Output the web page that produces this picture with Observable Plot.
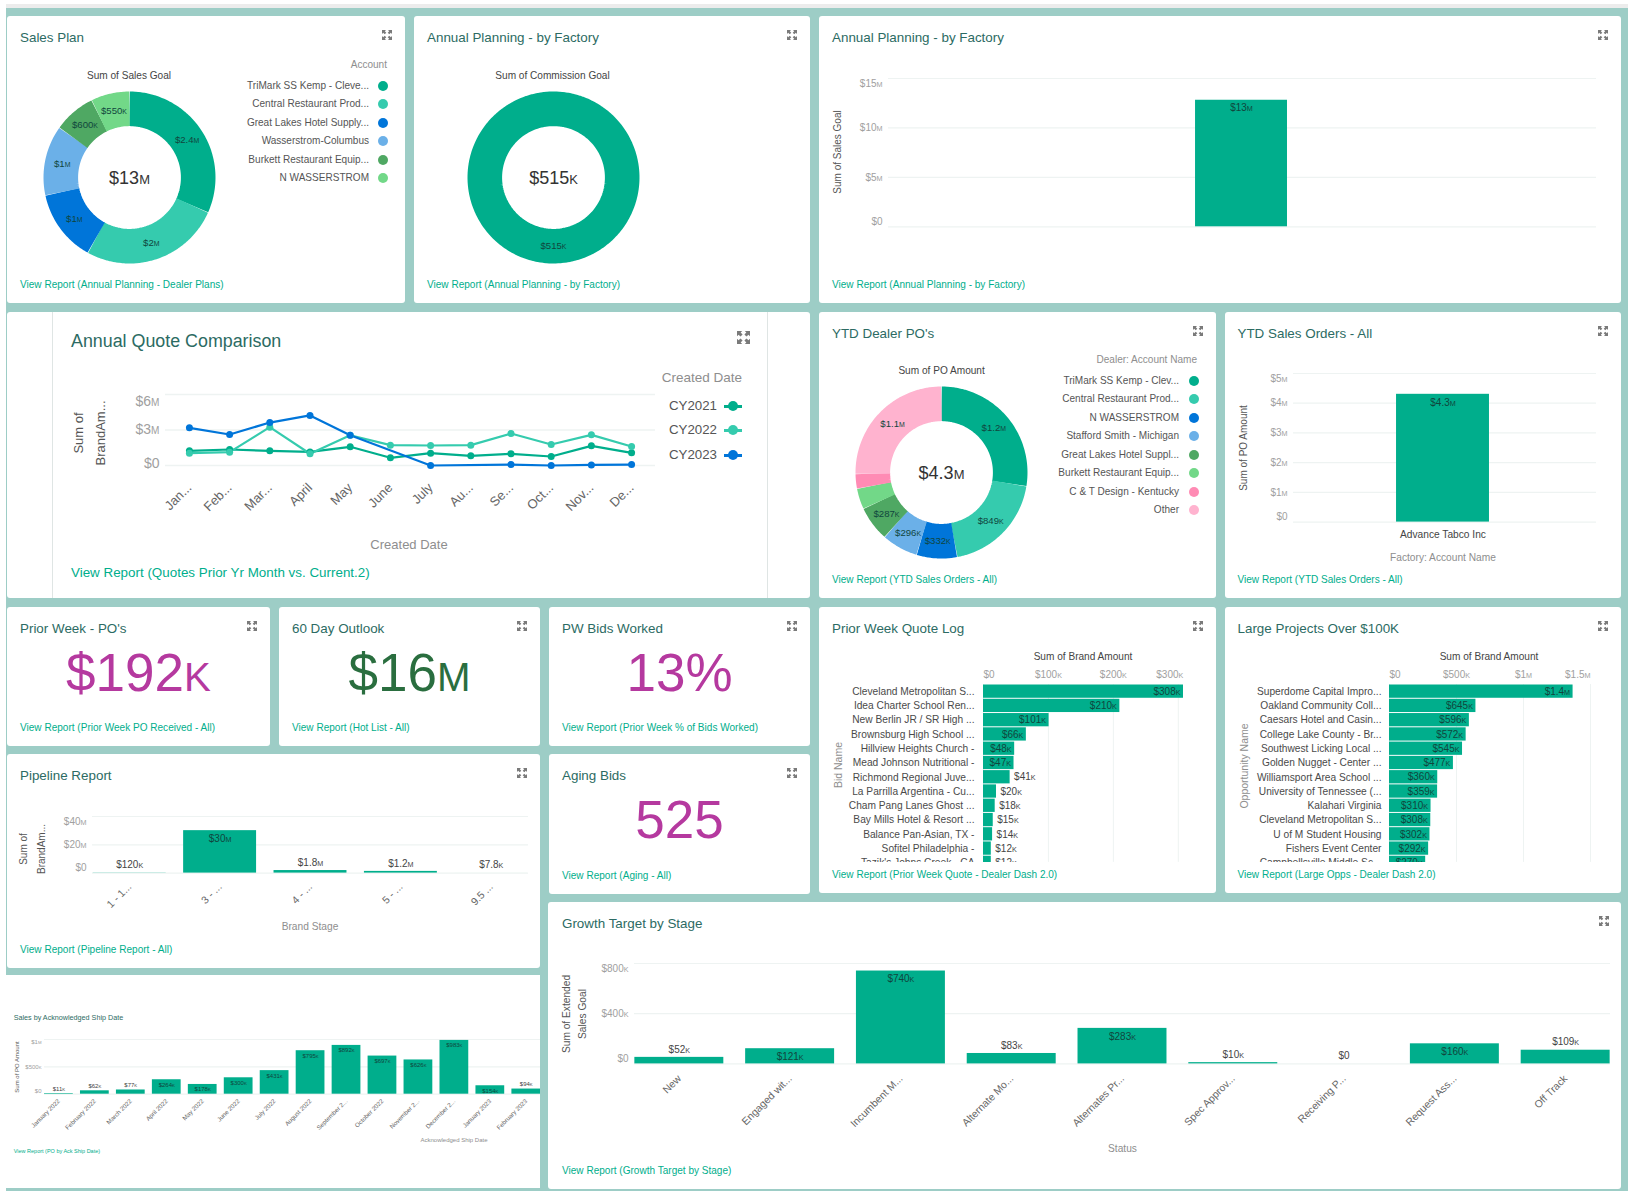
<!DOCTYPE html>
<html><head><meta charset="utf-8">
<script src="https://cdn.jsdelivr.net/npm/d3@7"></script>
<script src="https://cdn.jsdelivr.net/npm/@observablehq/plot@0.6"></script>
<style>
html,body{margin:0;padding:0;background:#fff;font-family:"Liberation Sans",Arial,sans-serif}
#page{position:relative;width:1630px;height:1196px;overflow:hidden;background:#fff}
svg.plot-svg{position:absolute}
</style></head><body><div id="page"></div>
<script>
// ---------- data ----------
const salesPlanAccounts = ["TriMark SS Kemp - Cleve...","Central Restaurant Prod...","Great Lakes Hotel Supply...","Wasserstrom-Columbus","Burkett Restaurant Equip...","N WASSERSTROM"];
const salesPlanValues = [2400000,2000000,1030000,1000000,600000,550000];
const salesPlanLabels = ["$2.4M","$2M","$1M","$1M","$600K","$550K"];
const commissionNames = ["Advance Tabco Inc"];
const commissionValues = [515000];
const commissionLabels = ["$515K"];
const factorySalesValues = [12800000];
const factorySalesLabels = ["$13M"];
const factorySalesTicks = [0,5e6,10e6,15e6];
const factorySalesTickLabels = ["$0","$5M","$10M","$15M"];
const months = ["Jan...","Feb...","Mar...","April","May","June","July","Au...","Se...","Oct...","Nov...","De..."];
const cy2021 = [1.24,1.35,1.24,1.15,1.58,0.65,1.04,0.82,0.99,0.76,1.66,1.07];
const cy2022 = [1.04,1.13,3.24,0.99,2.56,1.72,1.69,1.72,2.70,1.77,2.59,1.61];
const cy2023 = [3.18,2.62,3.63,4.23,2.56,null,0,null,0.08,0,0.05,0.08];
const quoteYears = ["CY2021","CY2022","CY2023"];
const dealerNames = ["TriMark SS Kemp - Clev...","Central Restaurant Prod...","N WASSERSTROM","Stafford Smith - Michigan","Great Lakes Hotel Suppl...","Burkett Restaurant Equip...","C & T Design - Kentucky","Other"];
const dealerValues = [1200000,849000,332000,296000,287000,170000,120000,1100000];
const dealerLabels = ["$1.2M","$849K","$332K","$296K","$287K","","","$1.1M"];
const ytdFactory = ["Advance Tabco Inc"];
const ytdValues = [4300000];
const ytdLabels = ["$4.3M"];
const ytdTicks = [0,1e6,2e6,3e6,4e6,5e6];
const ytdTickLabels = ["$0","$1M","$2M","$3M","$4M","$5M"];
const bidNames = ["Cleveland Metropolitan S...","Idea Charter School Ren...","New Berlin JR / SR High ...","Brownsburg High School ...","Hillview Heights Church -","Mead Johnson Nutritional -","Richmond Regional Juve...","La Parrilla Argentina - Cu...","Cham Pang Lanes Ghost ...","Bay Mills Hotel & Resort ...","Balance Pan-Asian, TX -","Sofitel Philadelphia -","Tazik's Johns Creek - CA"];
const bidValues = [308,210,101,66,48,47,41,20,18,15,14,12,12];
const bidLabels = ["$308K","$210K","$101K","$66K","$48K","$47K","$41K","$20K","$18K","$15K","$14K","$12K","$12K"];
const bidTicks = [0,100,200,300];
const bidTickLabels = ["$0","$100K","$200K","$300K"];
const oppNames = ["Superdome Capital Impro...","Oakland Community Coll...","Caesars Hotel and Casin...","College Lake County - Br...","Southwest Licking Local ...","Golden Nugget - Center ...","Williamsport Area School ...","University of Tennessee (...","Kalahari Virginia","Cleveland Metropolitan S...","U of M Student Housing","Fishers Event Center","Campbellsville Middle Sc..."];
const oppValues = [1370,645,596,572,545,477,360,359,310,308,302,292,270];
const oppLabels = ["$1.4M","$645K","$596K","$572K","$545K","$477K","$360K","$359K","$310K","$308K","$302K","$292K","$270K"];
const oppTicks = [0,500,1000,1500];
const oppTickLabels = ["$0","$500K","$1M","$1.5M"];
const stages = ["1 - 1...","3 - ...","4 - ...","5 - ...","9.5 ..."];
const stageValues = [120000,30000000,1800000,1200000,7800];
const stageLabels = ["$120K","$30M","$1.8M","$1.2M","$7.8K"];
const stageTicks = [0,20e6,40e6];
const stageTickLabels = ["$0","$20M","$40M"];
const shipMonths = ["January 2022","February 2022","March 2022","April 2022","May 2022","June 2022","July 2022","August 2022","September 2...","October 2022","November 2...","December 2...","January 2023","February 2023"];
const shipValues = [11000,62000,77000,264000,178000,300000,431000,795000,892000,697000,626000,983000,154000,94000];
const shipLabels = ["$11K","$62K","$77K","$264K","$178K","$300K","$431K","$795K","$892K","$697K","$626K","$983K","$154K","$94K"];
const shipTicks = [0,5e5,1e6];
const shipTickLabels = ["$0","$500K","$1M"];
const statuses = ["New","Engaged wit...","Incumbent M...","Alternate Mo...","Alternates Pr...","Spec Approv...","Receiving P...","Request Ass...","Off Track"];
const statusValues = [52000,121000,740000,83000,283000,10000,0,160000,109000];
const statusLabels = ["$52K","$121K","$740K","$83K","$283K","$10K","$0","$160K","$109K"];
const statusTicks = [0,4e5,8e5];
const statusTickLabels = ["$0","$400K","$800K"];

// ---------- style ----------
const GREEN="#00ae8c", TEAL="#9dcdc6", GRID="#eef3f2", TITLE="#2c6b63", TICK="#a0a0a0", AXIS="#8e8e8e", DARK="#555", BARTXT="#10463d";
const palette=[GREEN,"#35cbae","#0075d9","#6bb0e8","#4fa863","#72d888","#ff8bb4","#ffb3cf"];
const salesPalette=[GREEN,"#35cbae","#0075d9","#6bb0e8","#4fa863","#72d888"];
const lineColors=[GREEN,"#35cbae","#0075d9"];
const FONT='"Liberation Sans",Arial,sans-serif';
const page=document.getElementById("page");

function el(tag,css,html){const e=document.createElement(tag);e.style.cssText=css;if(html!=null)e.innerHTML=html;page.appendChild(e);return e;}
function rect(x0,y0,x1,y1,color,radius){return el("div",`position:absolute;left:${x0}px;top:${y0}px;width:${x1-x0}px;height:${y1-y0}px;background:${color};border-radius:${radius||0}px`);}
function txt(x,y,s,o={}){
  const a=o.anchor||"start";const tx=a==="start"?"0":a==="end"?"-100%":"-50%";
  return el("div",`position:absolute;left:${x}px;top:${y}px;white-space:nowrap;line-height:1;transform:translate(${tx},-50%);font-size:${o.size||11}px;color:${o.color||DARK};`,s);
}
function rot(x,y,s,o={}){return el("div",`position:absolute;left:${x}px;top:${y}px;white-space:nowrap;line-height:1;transform:translate(-50%,-50%) rotate(-90deg);font-size:${o.size||10}px;color:${o.color||DARK}`,s);}
function small(s){const m=/^(\$[\d.]+)([KM])$/.exec(s);return m?`${m[1]}<span style="font-size:.76em">${m[2]}</span>`:s;}
function icon(cx,cy,sz=10,color="#7a7a7a"){
  const h=sz/2;
  const e=document.createElementNS("http://www.w3.org/2000/svg","svg");
  e.setAttribute("width",sz);e.setAttribute("height",sz);e.setAttribute("viewBox","0 0 10 10");
  e.style.cssText=`position:absolute;left:${cx-h}px;top:${cy-h}px`;
  e.innerHTML=`<path fill="${color}" d="M0 0h4L2.8 1.2 4.3 2.7 2.7 4.3 1.2 2.8 0 4zM10 0v4L8.8 2.8 7.3 4.3 5.7 2.7 7.2 1.2 6 0zM0 10V6l1.2 1.2 1.5-1.5 1.6 1.6-1.5 1.5L4 10zM10 10H6l1.2-1.2-1.5-1.5 1.6-1.6 1.5 1.5L10 6z"/>`;
  page.appendChild(e);
}
const TITLE_SIZE=13.4, LINK_SIZE=10.05, LEG=10.05;
function card(x0,y0,x1,y1,title,link,o={}){
  rect(x0,y0,x1,y1,"#fff",3);
  const tx=x0+13;
  if(title)txt(tx,y0+22,title,{size:TITLE_SIZE,color:TITLE});
  if(link)txt(tx,y1-18.5,link,{size:LINK_SIZE,color:GREEN});
  if(!o.noIcon)icon(x1-18,y0+19);
}
function smallCaps(svg){
  svg.querySelectorAll("text").forEach(t=>{
    if(t.querySelector("tspan"))return;
    const m=/^(\$[\d.]+)([KM])$/.exec(t.textContent);
    if(!m)return;
    t.textContent=m[1];
    const s=document.createElementNS("http://www.w3.org/2000/svg","tspan");
    s.setAttribute("font-size","0.72em");s.textContent=m[2];t.appendChild(s);
  });
}
function place(fig,left,top){
  fig.classList.add("plot-svg");
  fig.style.position="absolute";fig.style.left=left+"px";fig.style.top=top+"px";fig.style.maxWidth="none";
  smallCaps(fig);page.appendChild(fig);return fig;
}
const baseStyle={fontFamily:FONT,background:"transparent",overflow:"hidden"};
const lookup=(keys,vals)=>v=>vals[keys.indexOf(v)];

function yAxisMarks(ticks,labels,o){
  const f=lookup(ticks,labels);
  const c={tickSize:0,tickPadding:o.pad??6,tickFormat:f,label:null,fontSize:o.size||10,fill:o.color||TICK};
  const n=ticks.length-1;
  return [
    Plot.axisY([ticks[0]],{...c,dy:o.dyBottom}),
    Plot.axisY(ticks.slice(1,n),{...c,dy:o.dyMid||0}),
    Plot.axisY([ticks[n]],{...c,dy:o.dyTop})
  ];
}
function vbar(o){
  const [x0,x1,yT,yB]=o.frame;
  const L=o.L||70,R=o.R||5,T=o.T||12,B=o.B||80;
  const rows=o.cats.map((c,i)=>({cat:c,value:o.values[i],label:o.labels[i]}));
  const scaleH=(yB-yT)/o.yMax;
  const tall=rows.filter(d=>d.value*scaleH>=o.minInside);
  const short=rows.filter(d=>d.value*scaleH<o.minInside);
  const fs=o.labelSize||10;
  const xAxis=o.noX?[]:[o.rotate
    ?Plot.axisX({tickSize:0,tickRotate:-45,tickPadding:o.xPad||10,fontSize:o.xSize||10.5,fill:o.xColor||"#666",label:null})
    :Plot.axisX({tickSize:0,tickPadding:o.xPad||10,fontSize:o.xSize||10.5,fill:o.xColor||"#444",label:null})];
  const fig=Plot.plot({
    width:L+(x1-x0)+R,height:T+(yB-yT)+B,marginLeft:L,marginRight:R,marginTop:T,marginBottom:B,style:baseStyle,
    x:{type:"band",domain:o.cats,paddingInner:o.pi,paddingOuter:o.po,align:o.align??0.5,round:false,label:null,axis:o.noX?null:undefined},
    y:{domain:[0,o.yMax],label:null},
    marks:[
      Plot.gridY(o.ticks,{stroke:GRID,strokeOpacity:1,strokeWidth:1.2}),
      ...yAxisMarks(o.ticks,o.tickLabels,o),
      ...xAxis,
      Plot.barY(rows,{x:"cat",y:"value",fill:GREEN}),
      Plot.text(tall,{x:"cat",y:"value",text:"label",dy:o.inDy||8,fontSize:fs,fill:BARTXT}),
      Plot.text(short,{x:"cat",y:"value",text:"label",dy:o.outDy||-8,fontSize:fs,fill:"#444"})
    ]
  });
  place(fig,x0-L,yT-T);
}
function hbar(o){
  const {x0,x1,yT,yClip,step,L=170,R=10,T=30}=o;
  const rows=o.cats.map((c,i)=>({cat:c,value:o.values[i],label:o.labels[i]}));
  const pxPer=(x1-x0)/o.xMax;
  const ins=rows.filter(d=>d.value*pxPer>=o.minInside), outs=rows.filter(d=>d.value*pxPer<o.minInside);
  const fTick=lookup(o.ticks,o.tickLabels);
  const c={anchor:"top",tickSize:0,tickPadding:6,tickFormat:fTick,fontSize:10,fill:TICK,label:null};
  const n=o.ticks.length-1;
  const fig=Plot.plot({
    width:L+(x1-x0)+R,height:T+(yClip-yT),marginLeft:L,marginRight:R,marginTop:T,marginBottom:0,style:baseStyle,
    x:{domain:[0,o.xMax],label:null},
    y:{type:"band",domain:o.cats,range:[T,T+step*o.cats.length],paddingInner:0.07,paddingOuter:0.035,round:false,label:null},
    marks:[
      Plot.gridX(o.ticks,{stroke:GRID,strokeOpacity:1,strokeWidth:1}),
      Plot.axisX([o.ticks[0]],{...c,textAnchor:"start"}),
      Plot.axisX(o.ticks.slice(1,n),c),
      Plot.axisX([o.ticks[n]],{...c,textAnchor:"end",dx:o.lastDx||0}),
      Plot.axisY({tickSize:0,tickPadding:o.yPad,fontSize:10.2,fill:"#4a4a4a",label:null}),
      Plot.barX(rows,{y:"cat",x:"value",fill:GREEN}),
      Plot.text(ins,{y:"cat",x:"value",text:"label",textAnchor:"end",dx:-3,fontSize:10,fill:BARTXT}),
      Plot.text(outs,{y:"cat",x:"value",text:"label",textAnchor:"start",dx:4,fontSize:10,fill:"#444"})
    ]
  });
  place(fig,x0-L,yT-T);
}
function donut(cx,cy,names,values,labels,colors,total){
  const R=86,r=51.4,mid=(R+r)/2,sum=d3.sum(values);
  const pts=[],lab=[];
  let a=0;
  const pos=t=>[mid*Math.sin(t*2*Math.PI),mid*Math.cos(t*2*Math.PI)];
  names.forEach((n,i)=>{
    const f=values[i]/sum,b=a+f,k=Math.max(2,Math.ceil(f*180));
    const end=names.length===1?1.004:b;
    for(let j=0;j<=k;j++){const [x,y]=pos(a+(end-a)*j/k);pts.push({name:n,x,y});}
    if(labels[i]){const [x,y]=pos((a+b)/2);lab.push({x,y,text:labels[i]});}
    a=b;
  });
  const fig=Plot.plot({
    width:180,height:180,margin:0,style:baseStyle,
    x:{domain:[-90,90],axis:null},y:{domain:[-90,90],axis:null},
    color:{domain:names,range:colors},
    marks:[
      Plot.line(pts,{x:"x",y:"y",z:"name",stroke:"name",strokeWidth:R-r,strokeLinecap:"butt",strokeLinejoin:"round",curve:"linear"}),
      Plot.text(lab,{x:"x",y:"y",text:"text",fontSize:9.6,fill:BARTXT}),
      Plot.text([total],{frameAnchor:"middle",dy:1,fontSize:18,fill:"#333"})
    ]
  });
  place(fig,cx-90,cy-90);
}
function legend(xText,xDot,ys,names,colors,heading,xHead,yHead){
  txt(xHead,yHead,heading,{size:LEG,color:AXIS,anchor:"end"});
  names.forEach((n,i)=>{
    txt(xText,ys[i],n,{size:LEG,color:DARK,anchor:"end"});
    el("div",`position:absolute;left:${xDot-5}px;top:${ys[i]-5}px;width:10px;height:10px;border-radius:50%;background:${colors[i]}`);
  });
}

// ---------- background ----------
rect(6,4,1628,8,"#ececec");
rect(6,8,1628,1190.7,TEAL);

// ---------- row 1 ----------
card(7,16,405,303,"Sales Plan","View Report (Annual Planning - Dealer Plans)");
txt(129,75.7,"Sum of Sales Goal",{size:10.1,color:"#444",anchor:"middle"});
donut(129,177.3,salesPlanAccounts,salesPlanValues,salesPlanLabels,salesPalette,"$13M");
legend(369,382.5,[85.7,104,122.7,141,159.7,178],salesPlanAccounts,salesPalette,"Account",387,65);

card(414,16,810,303,"Annual Planning - by Factory","View Report (Annual Planning - by Factory)");
txt(552.5,75.7,"Sum of Commission Goal",{size:10.1,color:"#444",anchor:"middle"});
donut(552.5,177.3,commissionNames,commissionValues,commissionLabels,[GREEN],"$515K");

card(819,16,1621,303,"Annual Planning - by Factory","View Report (Annual Planning - by Factory)");
rot(838,152,"Sum of Sales Goal");
vbar({frame:[888,1596,77.7,226],cats:["Advance Tabco Inc"],values:factorySalesValues,labels:factorySalesLabels,ticks:factorySalesTicks,tickLabels:factorySalesTickLabels,yMax:15e6,pi:0,po:3.35,align:0.4984,minInside:15,dyTop:5,dyBottom:-5,B:6,noX:true});

// ---------- row 2 ----------
rect(7,312,810,598,"#fff",3);
rect(52,312,53,598,"#dfe5e4");rect(767,312,768,598,"#dfe5e4");
txt(71,342,"Annual Quote Comparison",{size:17.85,color:TITLE});
txt(71,573,"View Report (Quotes Prior Yr Month vs. Current.2)",{size:13.4,color:GREEN});
icon(743,337,13);
txt(742,378,"Created Date",{size:13.5,color:AXIS,anchor:"end"});
quoteYears.forEach((y,i)=>{
  const yy=[406,430,455][i];
  txt(717,yy,y,{size:13.3,color:DARK,anchor:"end"});
  rect(724,yy-1.5,742,yy+1.5,lineColors[i]);
  el("div",`position:absolute;left:${728}px;top:${yy-5}px;width:10px;height:10px;border-radius:50%;background:${lineColors[i]}`);
});
rot(78,433,"Sum of",{size:13});rot(100,433,"BrandAm...",{size:13});
txt(409,544,"Created Date",{size:13,color:AXIS,anchor:"middle"});
(function(){
  const series=[cy2021,cy2022,cy2023];
  const rows=[];
  quoteYears.forEach((y,i)=>months.forEach((m,j)=>{if(series[i][j]!=null)rows.push({year:y,month:m,value:series[i][j]});}));
  const L=110,T=12,x0=165,x1=655,yT=394.3,yB=465.3,B=70;
  const fig=Plot.plot({
    width:L+(x1-x0)+5,height:T+(yB-yT)+B,marginLeft:L,marginRight:5,marginTop:T,marginBottom:B,style:baseStyle,
    x:{type:"point",domain:months,padding:0.595,round:false,label:null},
    y:{domain:[0,6],label:null},
    color:{domain:quoteYears,range:lineColors},
    marks:[
      Plot.gridY([0,3,6],{stroke:GRID,strokeOpacity:1,strokeWidth:1.4}),
      ...yAxisMarks([0,3,6],["$0","$3M","$6M"],{size:14,dyTop:7,dyBottom:-2,pad:6}),
      Plot.axisX({tickSize:0,tickRotate:-45,tickPadding:20,fontSize:13,fill:"#666",label:null}),
      Plot.line(rows,{x:"month",y:"value",z:"year",stroke:"year",strokeWidth:2.2}),
      Plot.dot(rows,{x:"month",y:"value",fill:"year",r:3.5})
    ]
  });
  place(fig,x0-L,yT-T);
})();

card(819,312,1216,598,"YTD Dealer PO's","View Report (YTD Sales Orders - All)");
txt(941.6,371,"Sum of PO Amount",{size:10.1,color:"#444",anchor:"middle"});
donut(940.6,472,dealerNames,dealerValues,dealerLabels,palette,"$4.3M");
legend(1179,1193.5,[381,399,418,436,455,473,492,510],dealerNames,palette,"Dealer: Account Name",1197,360);

card(1224.5,312,1621,598,"YTD Sales Orders - All","View Report (YTD Sales Orders - All)");
rot(1243.6,447.7,"Sum of PO Amount");
txt(1443,558,"Factory: Account Name",{size:10.2,color:AXIS,anchor:"middle"});
vbar({frame:[1293,1596,372.7,521.3],cats:ytdFactory,values:ytdValues,labels:ytdLabels,ticks:ytdTicks,tickLabels:ytdTickLabels,yMax:5e6,pi:0,po:1.13,align:0.4905,minInside:15,dyTop:5,dyBottom:-5,B:30,xPad:9,xSize:10.2});

// ---------- KPI row ----------
function kpi(x0,y0,x1,y1,title,link,value,color){
  card(x0,y0,x1,y1,title,link);
  txt((x0+x1)/2,y0+65,small(value),{size:53,color,anchor:"middle"});
}
const MAG="#b5399f",KGREEN="#2a6e3f";
kpi(7,607,270,746,"Prior Week - PO's","View Report (Prior Week PO Received - All)","$192K",MAG);
kpi(279,607,540,746,"60 Day Outlook","View Report (Hot List - All)","$16M",KGREEN);
kpi(549,607,810,746,"PW Bids Worked","View Report (Prior Week % of Bids Worked)","13%",MAG);
kpi(549,754,810,894,"Aging Bids","View Report (Aging - All)","525",MAG);

card(819,607,1216,893,"Prior Week Quote Log","View Report (Prior Week Quote - Dealer Dash 2.0)");
txt(1083,656.7,"Sum of Brand Amount",{size:10.1,color:"#444",anchor:"middle"});
rot(838,765,"Bid Name",{size:10.5,color:AXIS});
hbar({x0:983,x1:1183,yT:683.8,yClip:861.7,step:14.27,cats:bidNames,values:bidValues,labels:bidLabels,ticks:bidTicks,tickLabels:bidTickLabels,xMax:308,minInside:28,yPad:9,lastDx:5});

card(1224.5,607,1621,893,"Large Projects Over $100K","View Report (Large Opps - Dealer Dash 2.0)");
txt(1489,656.7,"Sum of Brand Amount",{size:10.1,color:"#444",anchor:"middle"});
rot(1243.6,765.7,"Opportunity Name",{size:10.5,color:AXIS});
hbar({x0:1388.5,x1:1589.5,yT:683.8,yClip:861.7,step:14.27,cats:oppNames,values:oppValues,labels:oppLabels,ticks:oppTicks,tickLabels:oppTickLabels,xMax:1500,minInside:28,yPad:8,lastDx:0});

card(7,754,540,968,"Pipeline Report","View Report (Pipeline Report - All)");
rot(24.4,849,"Sum of");rot(41.6,849,"BrandAm...");
txt(310,927,"Brand Stage",{size:10.2,color:AXIS,anchor:"middle"});
vbar({frame:[92,528,815.7,872.3],cats:stages,values:stageValues,labels:stageLabels,ticks:stageTicks,tickLabels:stageTickLabels,yMax:40e6,pi:0.193,po:0.008,minInside:15,dyTop:5,dyBottom:-5,rotate:true,B:50,xPad:12,L:40});

// ---------- bottom left inset ----------
rect(6,975,540,1188,"#fff");
txt(13.7,1018,"Sales by Acknowledged Ship Date",{size:7.2,color:TITLE});
txt(13.7,1151.7,"View Report (PO by Ack Ship Date)",{size:5.5,color:GREEN});
rot(17,1067,"Sum of PO Amount",{size:6});
txt(454,1139.7,"Acknowledged Ship Date",{size:6,color:AXIS,anchor:"middle"});
vbar({frame:[43.8,540,1039.3,1094],cats:shipMonths,values:shipValues,labels:shipLabels,ticks:shipTicks,tickLabels:shipTickLabels,yMax:1e6,pi:0.2,po:0,minInside:8,labelSize:6,inDy:5,outDy:-5,size:6,pad:3,dyTop:3,dyBottom:-3,rotate:true,xSize:6.2,xPad:6,B:40,L:30,R:0.01});

// ---------- growth ----------
rect(548,902,1621,1189,"#fff",3);
txt(562,924,"Growth Target by Stage",{size:TITLE_SIZE,color:TITLE});
txt(562,1170.7,"View Report (Growth Target by Stage)",{size:LINK_SIZE,color:GREEN});
icon(1604,921);
rot(567,1013.7,"Sum of Extended",{size:10.2});rot(583,1013.7,"Sales Goal",{size:10.2});
txt(1122.5,1148.7,"Status",{size:10.2,color:AXIS,anchor:"middle"});
vbar({frame:[634,1610,963.3,1063.7],cats:statuses,values:statusValues,labels:statusLabels,ticks:statusTicks,tickLabels:statusTickLabels,yMax:8e5,pi:0.197,po:0.003,minInside:15,dyTop:5,dyBottom:-5,rotate:true,B:80,xPad:13,L:50,R:10,xSize:10.4});
</script></body></html>
